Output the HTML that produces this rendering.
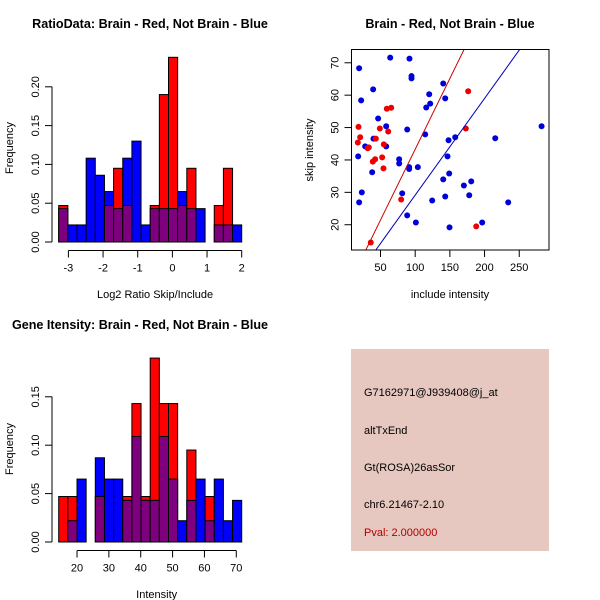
<!DOCTYPE html>
<html><head><meta charset="utf-8"><style>
body{margin:0;background:#fff}
svg{display:block;font-family:"Liberation Sans",sans-serif}
</style></head><body>
<svg id="s" width="600" height="600" xmlns="http://www.w3.org/2000/svg">
<rect width="600" height="600" fill="#fff"/>
<g id="p1"></g>
<g id="p2"></g>
<g id="p3"></g>
<g>
<rect x="351" y="349" width="198" height="202" fill="#e6c8c0"/>
<g font-size="11" fill="#000">
<text x="364" y="396">G7162971@J939408@j_at</text>
<text x="364" y="434">altTxEnd</text>
<text x="364" y="471">Gt(ROSA)26asSor</text>
<text x="364" y="508">chr6.21467-2.10</text>
<text x="364" y="536" fill="#b00000">Pval: 2.000000</text>
</g></g>
</svg>
<script>
// Histogram 1 data
const h1Red=[0.047,0,0,0,0,0.047,0.095,0.047,0,0,0.047,0.19,0.238,0.047,0.095,0,0,0.047,0.095,0];
const h1Blue=[0.043,0.022,0.022,0.108,0.086,0.065,0.043,0.108,0.13,0.022,0.043,0.043,0.043,0.065,0.043,0.043,0,0.022,0.022,0.022];
const h1XTicks=[-3,-2,-1,0,1,2];
const h1YTicks=[0,0.05,0.10,0.15,0.20];
// Histogram 3 data
const h3Red=[0.047,0.047,0,0,0.047,0,0,0.047,0.143,0.047,0.19,0.143,0.143,0,0.095,0,0.047,0,0,0];
const h3Blue=[0,0.022,0.065,0,0.087,0.065,0.065,0.043,0.109,0.043,0.043,0.109,0.065,0.022,0.043,0.065,0.022,0.065,0.022,0.043];
const h3XTicks=[20,30,40,50,60,70];
const h3YTicks=[0,0.05,0.10,0.15];
// Scatter data
const blueX=[19.2,64,91.8,94.7,94.7,39.4,22.1,140.4,120.2,121.6,143.3,115.9,46.6,58.2,88.5,114.4,157.7,148.1,215.4,282.2,39.9,27.9,58.2,17.8,146.6,76.9,76.9,38,91.3,91.3,103.8,149,140.4,180.8,170.2,177.9,23.1,19.2,81.3,143.3,124.5,234.1,88.5,101,196.6,149.5];
const blueY=[68.3,71.6,71.3,65.9,65.2,61.8,58.4,63.6,60.3,57.4,59,56.2,52.8,50.4,49.4,47.9,47,46.1,46.7,50.4,46.6,44.2,44.2,41.1,41.1,40.2,38.9,36.2,37.8,37.2,37.8,35.8,34,33.4,32.1,29.1,30,26.9,29.7,28.7,27.5,26.9,22.9,20.7,20.7,19.2];
const redX=[18.3,20.7,17.3,33.2,31.5,49,61.1,59.1,65.4,43.3,54.8,42.3,38.9,52.4,54.3,176.4,173,79.8,188,36];
const redY=[50.2,47,45.4,43.9,43.6,49.7,48.8,55.8,56.1,46.6,44.8,40.2,39.5,40.8,37.4,61.2,49.7,27.8,19.5,14.5];
const scXTicks=[50,100,150,200,250];
const scYTicks=[20,30,40,50,60,70];
const redFit=[-0.4,0.437];
const blueFit=[-0.7,0.2985];

const NS="http://www.w3.org/2000/svg";
function mk(parent,tag,at){const e=document.createElementNS(NS,tag);for(const k in at)e.setAttribute(k,at[k]);parent.appendChild(e);return e;}
function fmt(v,d){return v.toFixed(d);}

function hist(g,o){
  const {x0,x1,px0,px1,py0,yScale,red,blue,xt,yt,yd,axisY,yAxisX,title,titleX,titleY,xlab,xlabY}=o;
  const n=red.length,bw=(px1-px0)/n;
  const Y=v=>py0-v*yScale;
  const X=v=>px0+(v-x0)/(x1-x0)*(px1-px0);
  for(let i=0;i<n;i++){
    const r=red[i],b=blue[i],m=Math.min(r,b),M=Math.max(r,b);
    if(M>0){
      const c=r>=b?"#ff0000":"#0000ff";
      const el=mk(g,"rect",{x:px0+i*bw,y:Y(M),width:bw,height:M*yScale,fill:c,stroke:"#000","stroke-width":1});
      
      
    }
    if(m>0){
      const el=mk(g,"rect",{x:px0+i*bw,y:Y(m),width:bw,height:m*yScale,fill:"#7f007f",stroke:"#000","stroke-width":1});
      
      
    }
  }
  const xa=mk(g,"g",{});
  
  
  mk(xa,"line",{x1:X(xt[0]),x2:X(xt[xt.length-1]),y1:axisY,y2:axisY,stroke:"#000"});
  xt.forEach(t=>{mk(xa,"line",{x1:X(t),x2:X(t),y1:axisY,y2:axisY+7,stroke:"#000"});
    const tx=mk(xa,"text",{x:X(t),y:axisY+21,"text-anchor":"middle","font-size":11});tx.textContent=t;});
  const ya=mk(g,"g",{});
  
  
  mk(ya,"line",{x1:yAxisX,x2:yAxisX,y1:Y(yt[0]),y2:Y(yt[yt.length-1]),stroke:"#000"});
  yt.forEach(t=>{mk(ya,"line",{x1:yAxisX,x2:yAxisX-7,y1:Y(t),y2:Y(t),stroke:"#000"});
    const tx=mk(ya,"text",{x:yAxisX-13,y:Y(t),"text-anchor":"middle","font-size":11,transform:`rotate(-90 ${yAxisX-13} ${Y(t)})`});tx.textContent=fmt(t,2);});
  const tt=mk(g,"text",{x:titleX,y:titleY,"text-anchor":"middle","font-size":12.6,"font-weight":"bold"});tt.textContent=title;
  
  
  const xl=mk(g,"text",{x:(X(xt[0])+X(xt[xt.length-1]))/2,y:xlabY,"text-anchor":"middle","font-size":11});xl.textContent=xlab;
  
  
  const yl=mk(g,"text",{x:13,y:yd,"text-anchor":"middle","font-size":11,transform:`rotate(-90 13 ${yd})`});yl.textContent="Frequency";
  
  
}
hist(document.getElementById("p1"),{x0:-3.28,x1:2.0,px0:58.7,px1:241.7,py0:242,yScale:776,red:h1Red,blue:h1Blue,xt:h1XTicks,yt:h1YTicks,yd:148,axisY:250.5,yAxisX:52,title:"RatioData: Brain - Red, Not Brain - Blue",titleX:150,titleY:28,xlab:"Log2 Ratio Skip/Include",xlabY:298});
hist(document.getElementById("p3"),{x0:14.25,x1:71.7,px0:58.7,px1:241.7,py0:542,yScale:968,red:h3Red,blue:h3Blue,xt:h3XTicks,yt:h3YTicks,yd:449,axisY:550.5,yAxisX:52,title:"Gene Itensity: Brain - Red, Not Brain - Blue",titleX:140,titleY:329,xlab:"Intensity",xlabY:598});

// Scatter
(function(){
  const g=document.getElementById("p2");
  const L=351.5,R=549,T=49.5,B=250;
  const xmin=8.2,xmax=292.9,ymin=12.2,ymax=74.1;
  const X=v=>L+(v-xmin)/(xmax-xmin)*(R-L);
  const Y=v=>B-(v-ymin)/(ymax-ymin)*(B-T);
  mk(g,"clipPath",{id:"clip"}).appendChild(document.createElementNS(NS,"rect"));
  const cr=g.querySelector("clipPath rect");cr.setAttribute("x",L);cr.setAttribute("y",T);cr.setAttribute("width",R-L);cr.setAttribute("height",B-T);
  const pts=mk(g,"g",{"clip-path":"url(#clip)"});
  blueX.forEach((x,i)=>{const c=mk(pts,"circle",{cx:X(x),cy:Y(blueY[i]),r:3,fill:"#0000dd"});
    
    });
  redX.forEach((x,i)=>{const c=mk(pts,"circle",{cx:X(x),cy:Y(redY[i]),r:3,fill:"#ee0000"});
    
    });
  [[redFit,"#cc0000","red-fit-line"],[blueFit,"#0000bb","blue-fit-line"]].forEach(([f,c,n])=>{
    const l=mk(pts,"line",{x1:X(xmin),y1:Y(f[0]+f[1]*xmin),x2:X(xmax),y2:Y(f[0]+f[1]*xmax),stroke:c,"stroke-width":1});
    
    });
  const fr=mk(g,"rect",{x:L,y:T,width:R-L,height:B-T,fill:"none",stroke:"#000"});
  
  
  scXTicks.forEach(t=>{mk(g,"line",{x1:X(t),x2:X(t),y1:B,y2:B+7,stroke:"#000"});
    const tx=mk(g,"text",{x:X(t),y:B+21,"text-anchor":"middle","font-size":11});tx.textContent=t;});
  scYTicks.forEach(t=>{mk(g,"line",{x1:L,x2:L-7,y1:Y(t),y2:Y(t),stroke:"#000"});
    const tx=mk(g,"text",{x:L-13,y:Y(t),"text-anchor":"middle","font-size":11,transform:`rotate(-90 ${L-13} ${Y(t)})`});tx.textContent=t;});
  const tt=mk(g,"text",{x:450,y:28,"text-anchor":"middle","font-size":12.6,"font-weight":"bold"});tt.textContent="Brain - Red, Not Brain - Blue";
  
  
  const xl=mk(g,"text",{x:450,y:298,"text-anchor":"middle","font-size":11});xl.textContent="include intensity";
  
  
  const yl=mk(g,"text",{x:313,y:150,"text-anchor":"middle","font-size":11,transform:"rotate(-90 313 150)"});yl.textContent="skip intensity";
  
  
})();
</script>
</body></html>
